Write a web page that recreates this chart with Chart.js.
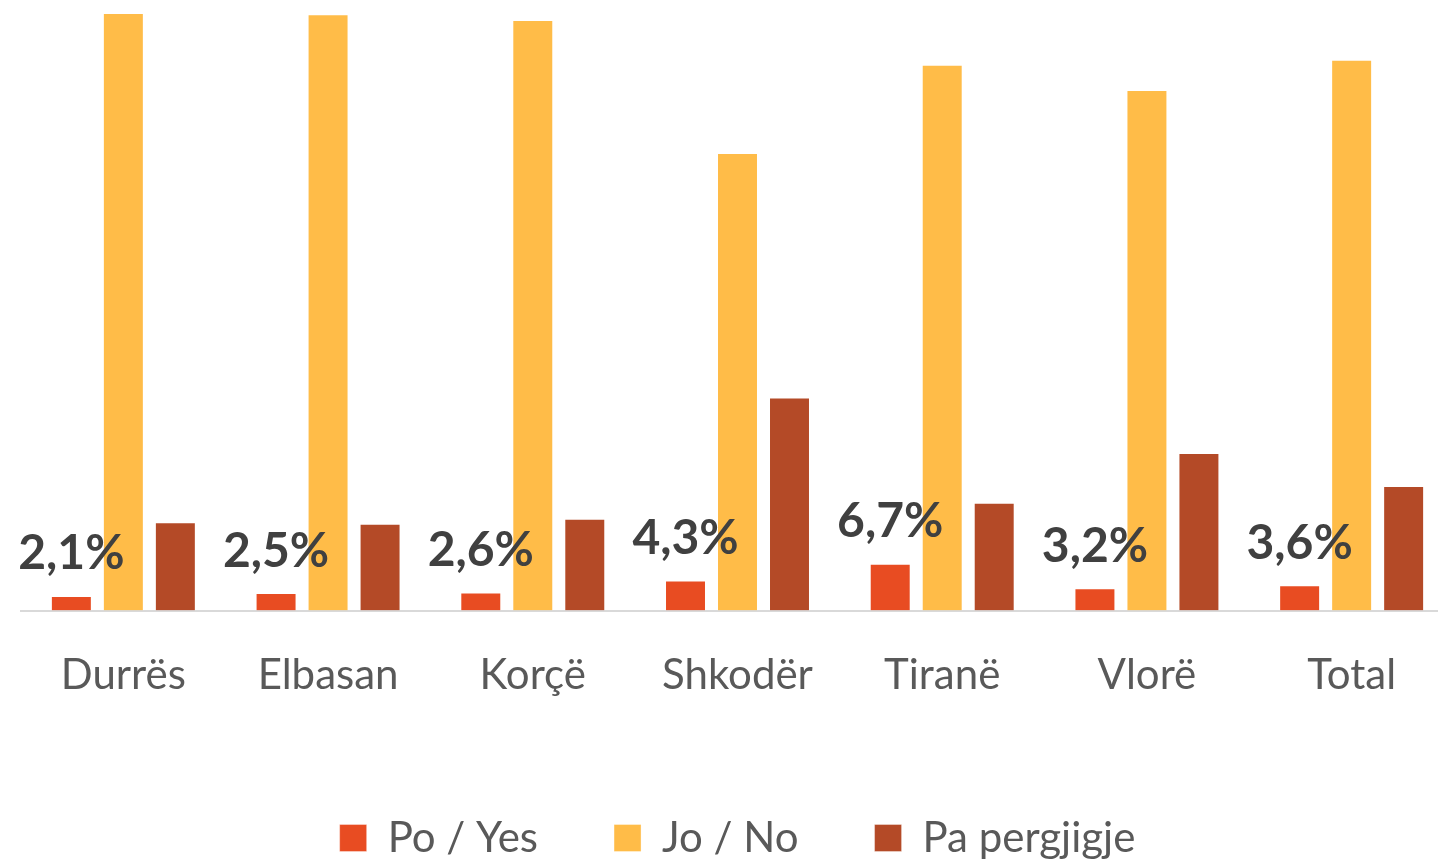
<!DOCTYPE html>
<html>
<head>
<meta charset="utf-8">
<script src="https://cdn.jsdelivr.net/npm/chart.js@4"></script>
<style>
  html, body { margin: 0; padding: 0; background: #fff; overflow: hidden; }
  #wrap { width: 1476px; height: 861px; position: relative; }
</style>
</head>
<body>
<div id="wrap"><canvas id="barChart"></canvas></div>
<script>
// Data (percentages)
const categories = ['Durrës', 'Elbasan', 'Korçë', 'Shkodër', 'Tiranë', 'Vlorë', 'Total'];
const seriesNames = ['Po / Yes', 'Jo / No', 'Pa pergjigje'];
const yesValues = [2.1, 2.5, 2.6, 4.3, 6.7, 3.2, 3.6];
const noValues = [85.3, 85.1, 84.3, 65.3, 77.9, 74.3, 78.6];
const noAnswerValues = [12.6, 12.4, 13.1, 30.4, 15.4, 22.5, 17.8];
const seriesColors = ['#E84C22', '#FFBC48', '#B44A27'];

// Draws the percentage labels above the "Po / Yes" bars
const yesLabels = {
    id: 'yesLabels',
    afterDatasetsDraw(chart) {
        const ctx = chart.ctx;
        const meta = chart.getDatasetMeta(0);
        ctx.save();
        ctx.font = 'bold 48px Lato';
        ctx.fillStyle = '#404040';
        ctx.textAlign = 'center';
        ctx.textBaseline = 'middle';
        meta.data.forEach((bar, i) => {
            const txt = yesValues[i].toFixed(1).replace('.', ',') + '%';
            ctx.fillText(txt, bar.x, bar.y - 42);
        });
        ctx.restore();
    }
};

function renderBarChart() {
    const ctx = document.getElementById('barChart');
    const values = [yesValues, noValues, noAnswerValues];
    new Chart(ctx, {
        type: 'bar',
        data: {
            labels: categories,
            datasets: seriesNames.map((name, i) => ({
                label: name,
                data: values[i],
                backgroundColor: seriesColors[i],
                borderColor: 'rgba(255,255,255,0.35)',
                borderWidth: 1,
                categoryPercentage: 0.762,
                barPercentage: 0.788
            }))
        },
        options: {
            responsive: true,
            maintainAspectRatio: false,
            animation: false,
            layout: { padding: { left: 21, right: 22, top: 8, bottom: -8 } },
            plugins: {
                legend: {
                    position: 'bottom',
                    labels: {
                        font: { family: 'Lato', size: 42 },
                        color: '#595959',
                        boxWidth: 27,
                        boxHeight: 27,
                        padding: 76
                    }
                },
                tooltip: { enabled: false }
            },
            scales: {
                x: {
                    grid: { display: false, drawTicks: false },
                    border: { display: true, color: '#d9d9d9', width: 2 },
                    ticks: {
                        font: { family: 'Lato', size: 42 },
                        color: '#595959',
                        padding: 40
                    }
                },
                y: {
                    display: false,
                    min: 0,
                    max: 86
                }
            }
        },
        plugins: [yesLabels]
    });
}

document.addEventListener('DOMContentLoaded', function() {
    renderBarChart();
});
</script>
</body>
</html>
